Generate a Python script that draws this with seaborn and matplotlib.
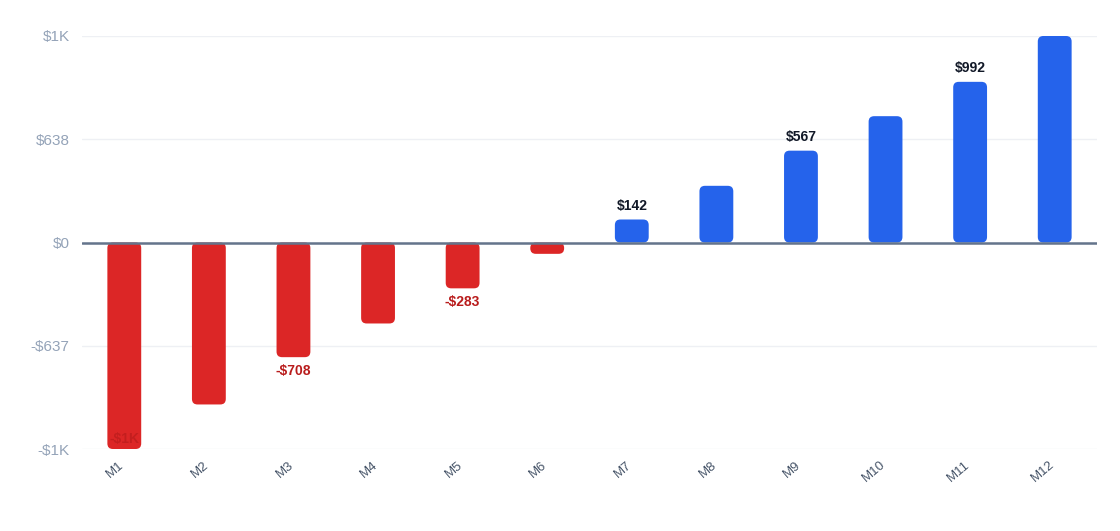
import matplotlib
matplotlib.use("Agg")
import matplotlib.pyplot as plt
import matplotlib.transforms as mtransforms
from matplotlib.patches import FancyBboxPatch
import seaborn as sns
import pandas as pd

months = ["M1", "M2", "M3", "M4", "M5", "M6", "M7", "M8", "M9", "M10", "M11", "M12"]
values = [-1275, -1000, -708, -500, -283, -70, 142, 350, 567, 780, 992, 1275]
labeled = ["M1", "M3", "M5", "M7", "M9", "M11"]
yticks = [-1275, -637.5, 0, 637.5, 1275]
ytick_labels = ["-$1K", "-$637", "$0", "$638", "$1K"]

POS = "#2563EB"
NEG = "#DC2626"

df = pd.DataFrame({"month": months, "value": values})
df["sign"] = ["pos" if v >= 0 else "neg" for v in values]

sns.set_theme(style="white")
plt.rcParams["font.family"] = ["Liberation Sans", "DejaVu Sans"]

fig = plt.figure(figsize=(11.2, 5.31), dpi=100)
ax = fig.add_axes([82 / 1120, 1 - 449 / 531, (1097 - 82) / 1120, (449 - 36) / 531])

sns.barplot(data=df, x="month", y="value", hue="sign",
            palette={"pos": POS, "neg": NEG}, width=0.4, legend=False,
            dodge=False, saturation=1, ax=ax, zorder=3)

# Replace rectangles with rounded bars
for p in list(ax.patches):
    x, y = p.get_x(), p.get_y()
    w, h = p.get_width(), p.get_height()
    if w == 0 or h == 0:
        continue
    fc = p.get_facecolor()
    y0, y1 = min(y, y + h), max(y, y + h)
    p.remove()
    rb = FancyBboxPatch((x, y0), w, y1 - y0,
                        boxstyle="round,pad=0,rounding_size=0.065",
                        mutation_aspect=(2550 / 413) / (12 / 1015),
                        facecolor=fc, edgecolor="none", zorder=3)
    ax.add_patch(rb)

ax.set_xlim(-0.5, 11.5)
ax.set_ylim(-1275, 1275)
ax.set_yticks(yticks)
ax.set_yticklabels(ytick_labels)
ax.grid(axis="y", color="#EEF0F4", linewidth=1, zorder=0)
ax.grid(axis="x", visible=False)
ax.axhline(0, color="#64748B", linewidth=1.8, zorder=4)
for s in ax.spines.values():
    s.set_visible(False)
ax.set_xlabel("")
ax.set_ylabel("")
ax.tick_params(axis="y", length=0, pad=9, labelsize=11, labelcolor="#94A3B8")
ax.tick_params(axis="x", length=0, pad=7, labelsize=9.5, labelcolor="#475569")
shift = mtransforms.ScaledTranslation(-4 / 72, 0, fig.dpi_scale_trans)
for lbl in ax.get_xticklabels():
    lbl.set_rotation(40)
    lbl.set_ha("right")
    lbl.set_rotation_mode("anchor")
    lbl.set_transform(lbl.get_transform() + shift)


def fmt(v):
    a = abs(v)
    s = "$1K" if a >= 1000 else f"${a:.0f}"
    return ("-" if v < 0 else "") + s


for i, (m, v) in enumerate(zip(months, values)):
    if m not in labeled:
        continue
    if v >= 0:
        ax.annotate(fmt(v), (i, v), xytext=(0, 5), textcoords="offset points",
                    ha="center", va="bottom", fontsize=10, fontweight="bold",
                    color="#111827", zorder=5)
    elif v <= -1200:
        ax.annotate(fmt(v), (i, v), xytext=(0, 2), textcoords="offset points",
                    ha="center", va="bottom", fontsize=10, fontweight="bold",
                    color="#B91C1C", alpha=0.7, zorder=5)
    else:
        ax.annotate(fmt(v), (i, v), xytext=(0, -5), textcoords="offset points",
                    ha="center", va="top", fontsize=10, fontweight="bold",
                    color="#B91C1C", zorder=5)

fig.savefig("out.png", dpi=100)
